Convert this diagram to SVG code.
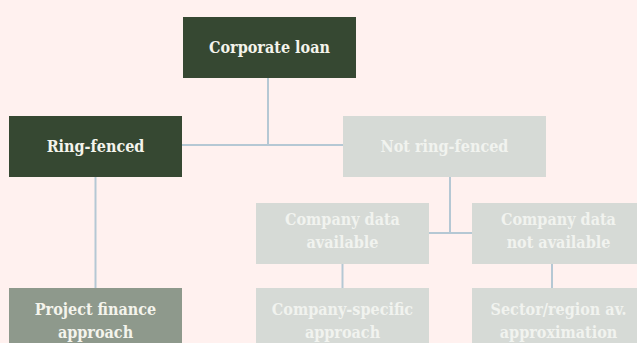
<svg xmlns="http://www.w3.org/2000/svg" width="637" height="343" viewBox="0 0 637 343">
<style>
.bg{fill:#FFF1EF}
.dark{fill:#364832}
.mid{fill:#8E998C}
.pale{fill:#D6DAD6}
.t{font-family:"DejaVu Serif Condensed","DejaVu Serif","Liberation Serif",serif;font-size:16px;font-weight:bold;text-anchor:middle}
.tl{fill:#F4F4EC}
.tp{fill:#F1F3EF}
.c{stroke:#B5C8D4;stroke-width:2;fill:none}
</style>
<rect class="bg" x="0" y="0" width="637" height="343"/>
<g id="connectors">
<path class="c" d="M268,78 V145 M182,145 H343"/>
<path class="c" d="M95.5,177 V288"/>
<path class="c" d="M450,177 V233 M429,233 H472"/>
<path class="c" d="M342.5,264 V288"/>
<path class="c" d="M552,264 V288"/>
</g>
<g id="corporate-loan">
<rect class="dark" x="183" y="17" width="173" height="61"/>
<text class="t tl" x="269.5" y="52.5">Corporate loan</text>
</g>
<g id="ring-fenced">
<rect class="dark" x="9" y="116" width="173" height="61"/>
<text class="t tl" x="95.5" y="151.5">Ring-fenced</text>
</g>
<g id="not-ring-fenced">
<rect class="pale" x="343" y="116" width="203" height="61"/>
<text class="t tp" x="444.5" y="151.5">Not ring-fenced</text>
</g>
<g id="company-data-available">
<rect class="pale" x="256" y="203" width="173" height="61"/>
<text class="t tp" x="342.5" y="225">Company data</text>
<text class="t tp" x="342.5" y="248">available</text>
</g>
<g id="company-data-not-available">
<rect class="pale" x="472" y="203" width="173" height="61"/>
<text class="t tp" x="558.5" y="225">Company data</text>
<text class="t tp" x="558.5" y="248">not available</text>
</g>
<g id="project-finance">
<rect class="mid" x="9" y="288" width="173" height="61"/>
<text class="t tl" x="95.5" y="315">Project finance</text>
<text class="t tl" x="95.5" y="338">approach</text>
</g>
<g id="company-specific">
<rect class="pale" x="256" y="288" width="173" height="61"/>
<text class="t tp" x="342.5" y="315">Company-specific</text>
<text class="t tp" x="342.5" y="338">approach</text>
</g>
<g id="sector-region">
<rect class="pale" x="472" y="288" width="173" height="61"/>
<text class="t tp" x="558.5" y="315">Sector/region av.</text>
<text class="t tp" x="558.5" y="338">approximation</text>
</g>
</svg>
